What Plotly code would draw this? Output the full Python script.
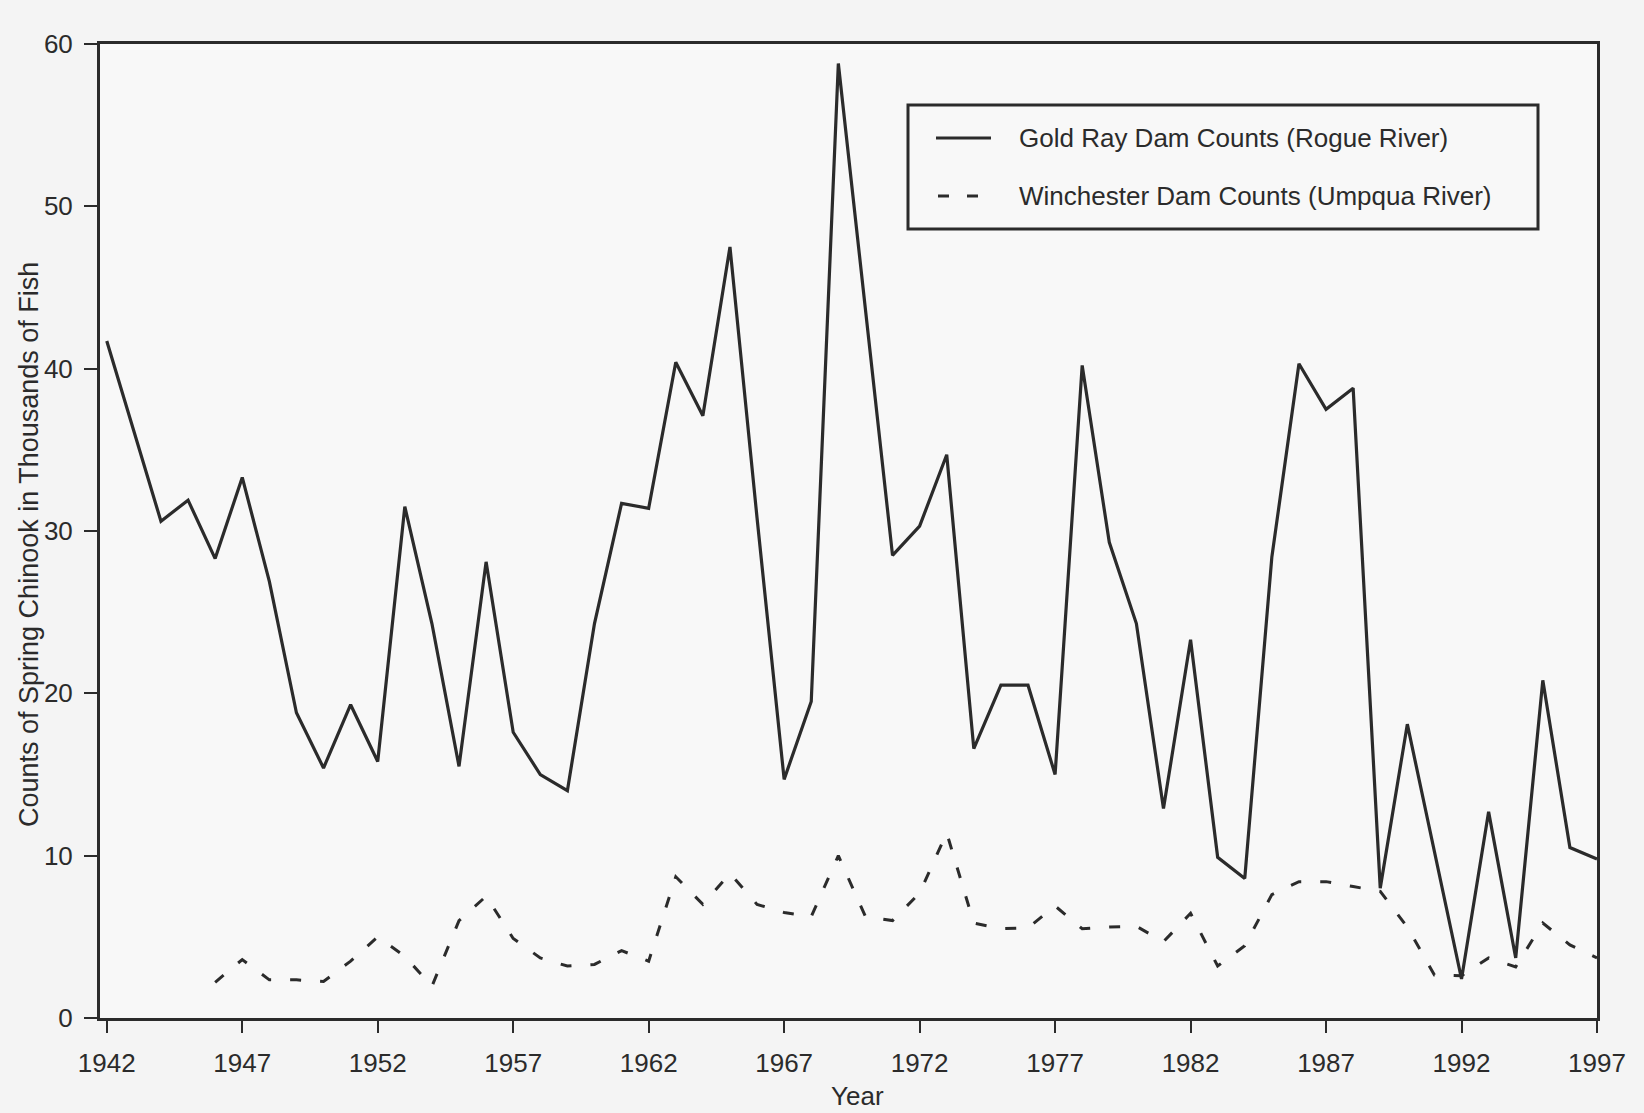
import plotly.graph_objects as go

# Spring chinook counts, thousands of fish
gold_ray_years = list(range(1942, 1998))
gold_ray_counts = [
    41.7, 36.2, 30.6, 31.9, 28.3, 33.3, 26.9, 18.8, 15.4, 19.3,
    15.8, 31.5, 24.3, 15.5, 28.1, 17.6, 15.0, 14.0, 24.3, 31.7,
    31.4, 40.4, 37.1, 47.5, 30.8, 14.7, 19.5, 58.8, 43.5, 28.5,
    30.3, 34.7, 16.6, 20.5, 20.5, 15.0, 40.2, 29.3, 24.3, 12.9,
    23.3, 9.9, 8.6, 28.4, 40.3, 37.5, 38.8, 8.0, 18.1, 10.3,
    2.4, 12.7, 3.7, 20.8, 10.5, 9.8,
]

winchester_years = list(range(1946, 1998))
winchester_counts = [
    2.2, 3.6, 2.35, 2.35, 2.25, 3.5, 5.0, 3.8, 1.95, 6.0,
    7.5, 4.9, 3.7, 3.2, 3.3, 4.15, 3.5, 8.7, 7.0, 8.9,
    7.0, 6.5, 6.25, 10.0, 6.25, 6.0, 7.7, 11.4, 5.85, 5.5,
    5.55, 6.9, 5.5, 5.6, 5.65, 4.7, 6.45, 3.2, 4.45, 7.6,
    8.4, 8.4, 8.1, 7.8, 5.6, 2.65, 2.6, 3.7, 3.15, 5.85,
    4.5, 3.7,
]

year_ticks = list(range(1942, 1998, 5))
count_ticks = list(range(0, 61, 10))

series_names = [
    "Gold Ray Dam Counts (Rogue River)",
    "Winchester Dam Counts (Umpqua River)",
]

INK = "#2b2b2b"
FONT = "Liberation Sans, Arial, Helvetica, sans-serif"

W, H = 1644, 1113
L, R, T, B = 100, 47, 44, 95
PW, PH = W - L - R, H - T - B


def px(x):
    return (x - L) / PW


def py(y):
    return (H - B - y) / PH


fig = go.Figure()
fig.add_trace(go.Scatter(
    x=gold_ray_years, y=gold_ray_counts, mode="lines",
    line=dict(color=INK, width=3.2), name=series_names[0],
    showlegend=False,
))
fig.add_trace(go.Scatter(
    x=winchester_years, y=winchester_counts, mode="lines",
    line=dict(color=INK, width=3, dash="11px,19px"), name=series_names[1],
    showlegend=False,
))

# boxed key in the upper right
ROW1, ROW2 = 138, 196
shapes = [
    dict(type="rect", xref="paper", yref="paper",
         x0=px(908), x1=px(1538), y0=py(229), y1=py(105),
         line=dict(color=INK, width=3), fillcolor="rgba(0,0,0,0)"),
    dict(type="line", xref="paper", yref="paper",
         x0=px(936), x1=px(991), y0=py(ROW1), y1=py(ROW1),
         line=dict(color=INK, width=3)),
    dict(type="line", xref="paper", yref="paper",
         x0=px(938), x1=px(978), y0=py(ROW2), y1=py(ROW2),
         line=dict(color=INK, width=3, dash="11px,18px")),
]

annotations = [
    dict(text=series_names[0], xref="paper", yref="paper",
         x=px(1017), y=py(ROW1), xanchor="left", yanchor="middle",
         showarrow=False, font=dict(family=FONT, size=26, color=INK)),
    dict(text=series_names[1], xref="paper", yref="paper",
         x=px(1017), y=py(ROW2), xanchor="left", yanchor="middle",
         showarrow=False, font=dict(family=FONT, size=26, color=INK)),
    dict(text="Counts of Spring Chinook in Thousands of Fish",
         xref="paper", yref="paper", x=px(29), y=py(545),
         xanchor="center", yanchor="middle", textangle=-90,
         showarrow=False, font=dict(family=FONT, size=27, color=INK)),
    dict(text="Year", xref="paper", yref="paper", x=px(857), y=py(1096),
         xanchor="center", yanchor="middle",
         showarrow=False, font=dict(family=FONT, size=26, color=INK)),
]

fig.update_layout(
    width=W, height=H,
    margin=dict(l=L, r=R, t=T, b=B, autoexpand=False),
    paper_bgcolor="#f4f4f4",
    plot_bgcolor="#f8f8f8",
    font=dict(family=FONT, size=26, color=INK),
    shapes=shapes,
    annotations=annotations,
    showlegend=False,
)
fig.update_xaxes(
    range=[1941.75, 1997.0],
    tickmode="array", tickvals=year_ticks,
    ticktext=[str(v) for v in year_ticks],
    ticks="outside", ticklen=12, tickwidth=2, tickcolor=INK,
    ticklabelstandoff=8,
    showline=True, linecolor=INK, linewidth=3, mirror=True,
    showgrid=False, zeroline=False,
    tickfont=dict(family=FONT, size=26, color=INK),
)
fig.update_yaxes(
    range=[0, 60],
    tickmode="array", tickvals=count_ticks,
    ticktext=[str(v) for v in count_ticks],
    ticks="outside", ticklen=13, tickwidth=2, tickcolor=INK,
    ticklabelstandoff=6,
    showline=True, linecolor=INK, linewidth=3, mirror=True,
    showgrid=False, zeroline=False,
    tickfont=dict(family=FONT, size=26, color=INK),
)

fig.write_html("out.html")
